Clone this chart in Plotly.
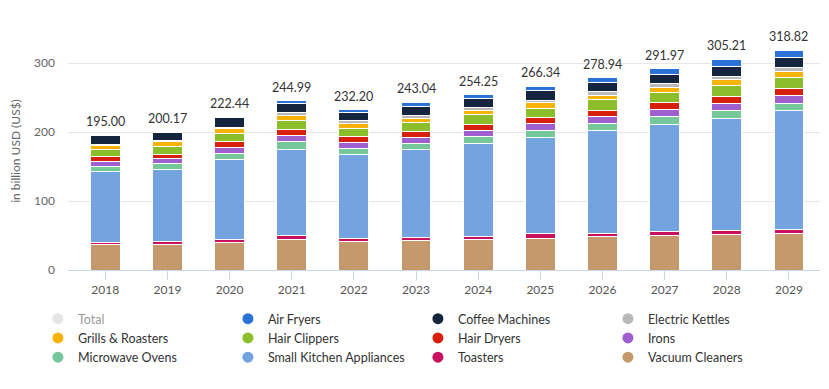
import plotly.graph_objects as go

years = ["2018", "2019", "2020", "2021", "2022", "2023", "2024", "2025", "2026", "2027", "2028", "2029"]
totals = [195.00, 200.17, 222.44, 244.99, 232.20, 243.04, 254.25, 266.34, 278.94, 291.97, 305.21, 318.82]

vacuum_cleaners = [37.2, 36.7, 39.6, 43.5, 41.0, 42.5, 44.0, 45.4, 48.8, 50.2, 51.2, 53.0]
toasters = [3.3, 4.8, 4.8, 5.8, 5.3, 5.3, 4.8, 6.8, 4.8, 5.3, 6.3, 5.8]
small_kitchen = [102.5, 104.8, 116.3, 126.1, 121.2, 127.5, 134.0, 139.3, 149.0, 155.5, 162.2, 172.1]
microwave_ovens = [7.2, 8.2, 8.7, 10.6, 8.2, 7.7, 10.1, 10.1, 10.1, 11.1, 11.6, 10.6]
irons = [7.2, 7.2, 8.7, 8.7, 9.2, 9.7, 9.2, 10.1, 10.1, 10.6, 10.6, 11.6]
hair_dryers = [7.0, 6.3, 7.7, 8.7, 8.7, 8.7, 8.2, 8.7, 8.7, 10.1, 10.1, 10.6]
hair_clippers = [9.7, 11.6, 11.6, 12.6, 11.6, 12.6, 14.5, 14.0, 15.5, 14.5, 15.5, 15.5]
grills_roasters = [6.0, 6.3, 7.2, 7.7, 7.7, 6.3, 5.8, 7.7, 6.3, 7.2, 9.2, 9.2]
electric_kettles = [2.4, 2.4, 2.4, 3.9, 3.4, 4.3, 4.3, 3.9, 5.8, 5.8, 4.3, 5.8]
coffee_machines = [12.0, 11.1, 13.5, 13.5, 12.0, 12.6, 14.0, 13.5, 13.0, 13.5, 14.5, 14.5]
air_fryers = [0.5, 0.8, 1.9, 3.9, 3.9, 5.8, 5.3, 6.8, 6.8, 8.2, 9.7, 10.1]

# stacking order bottom -> top
stack = [
    ("Vacuum Cleaners", vacuum_cleaners, "#c49a6c"),
    ("Toasters", toasters, "#c8105e"),
    ("Small Kitchen Appliances", small_kitchen, "#74a4e0"),
    ("Microwave Ovens", microwave_ovens, "#76c79a"),
    ("Irons", irons, "#a05fce"),
    ("Hair Dryers", hair_dryers, "#d6200b"),
    ("Hair Clippers", hair_clippers, "#8cbd2a"),
    ("Grills & Roasters", grills_roasters, "#f9b208"),
    ("Electric Kettles", electric_kettles, "#b9b9b9"),
    ("Coffee Machines", coffee_machines, "#14253d"),
    ("Air Fryers", air_fryers, "#2b72d6"),
]
colors = {n: c for n, _, c in stack}

legend_order = ["Total", "Air Fryers", "Coffee Machines", "Electric Kettles",
                "Grills & Roasters", "Hair Clippers", "Hair Dryers", "Irons",
                "Microwave Ovens", "Small Kitchen Appliances", "Toasters", "Vacuum Cleaners"]

fig = go.Figure()
for name, vals, col in stack:
    fig.add_trace(go.Bar(x=years, y=vals, name=name, marker=dict(color=col, line=dict(color="white", width=1)),
                         showlegend=False, legendgroup=name))

# legend entries (circle markers)
for name in legend_order:
    col = colors.get(name, "#cccccc")
    fig.add_trace(go.Scatter(x=[None], y=[None], mode="markers", name=name, legendgroup=name,
                             marker=dict(color=col, size=11, symbol="circle"),
                             visible="legendonly" if name == "Total" else True))

# total labels (category index positions)
for i, t in enumerate(totals):
    fig.add_annotation(x=i, y=t, xref="x", yref="y", text=f"{t:.2f}", showarrow=False,
                       yanchor="bottom", yshift=4,
                       font=dict(size=12.5, color="#333333", family="Lato"))

fig.update_layout(
    width=821, height=381,
    margin=dict(l=60, r=9, t=24, b=119, autoexpand=False),
    barmode="stack", bargap=0.52,
    plot_bgcolor="white", paper_bgcolor="white",
    font=dict(family="Lato", size=12, color="#333333"),
    showlegend=True,
    legend=dict(orientation="h", x=-0.04, xanchor="left", y=-0.143, yanchor="top",
                entrywidth=145, entrywidthmode="pixels", font=dict(size=12.5, color="#333333"),
                traceorder="normal", itemclick=False, itemdoubleclick=False,
                tracegroupgap=0),
    xaxis=dict(type="category", range=[-0.6, 11.5], showgrid=False, ticks="outside", ticklen=9,
               tickcolor="#ccd6eb", showline=True, linecolor="#ccd6eb",
               tickfont=dict(size=12, color="#555555")),
    yaxis=dict(range=[0, 345], tickvals=[0, 100, 200, 300], gridcolor="#e6e6e6", zeroline=False,
               tickfont=dict(size=12, color="#666666"), ticks="", ticklabelstandoff=12,
               title=dict(text="in billion USD (US$)", font=dict(size=12, color="#666666"), standoff=14)),
)

fig.write_html("out.html")
